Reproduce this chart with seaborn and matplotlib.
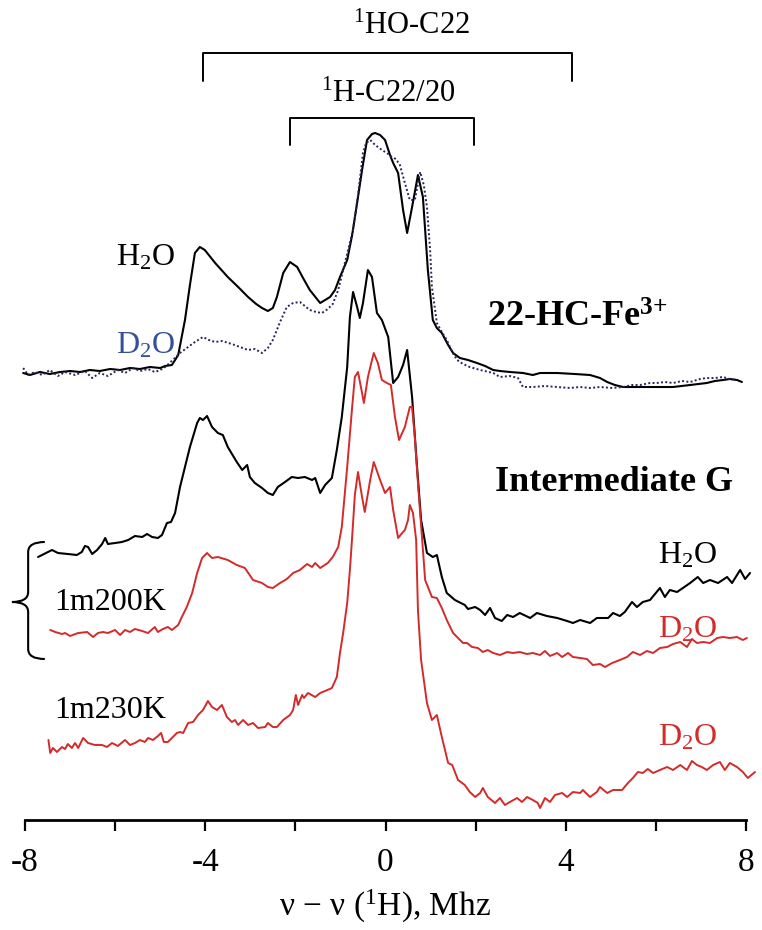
import numpy as np
import pandas as pd
import seaborn as sns
import matplotlib.pyplot as plt
from matplotlib.path import Path
from matplotlib.patches import PathPatch
from matplotlib.ticker import MultipleLocator

# ENDOR traces, (nu - nu(1H) in MHz, stacked intensity in arbitrary units)
hc_h2o = [(-8.04, 447), (-7.89, 445), (-7.67, 448), (-7.45, 446), (-7.22, 448), (-7.00, 449),
          (-6.78, 448), (-6.56, 450), (-6.34, 449), (-6.11, 451), (-5.89, 450), (-5.67, 452),
          (-5.45, 451), (-5.23, 453), (-5.00, 452), (-4.89, 454), (-4.74, 455), (-4.60, 465),
          (-4.45, 500), (-4.34, 535), (-4.23, 567), (-4.12, 573), (-4.01, 570), (-3.78, 557),
          (-3.50, 543), (-3.27, 533), (-3.05, 523), (-2.87, 516), (-2.74, 512), (-2.61, 509),
          (-2.50, 512), (-2.41, 523), (-2.27, 547), (-2.12, 558), (-1.96, 553), (-1.83, 542),
          (-1.68, 530), (-1.45, 517), (-1.34, 520), (-1.23, 523), (-1.12, 530), (-1.01, 543),
          (-0.85, 560), (-0.74, 585), (-0.63, 617), (-0.52, 650), (-0.41, 680), (-0.30, 686),
          (-0.23, 687), (-0.12, 685), (-0.01, 680), (0.10, 665), (0.17, 657), (0.28, 647),
          (0.39, 610), (0.48, 587), (0.59, 613), (0.72, 645), (0.83, 623), (0.94, 550),
          (1.05, 500), (1.14, 492), (1.25, 487), (1.39, 475), (1.50, 467), (1.65, 462),
          (1.83, 460), (2.03, 457), (2.21, 454), (2.39, 450), (2.54, 449), (2.76, 448),
          (3.05, 447), (3.27, 445), (3.43, 447), (3.81, 447), (4.20, 446), (4.54, 445),
          (4.76, 442), (4.92, 438), (5.09, 435), (5.27, 433), (5.65, 433), (6.02, 433),
          (6.38, 433), (6.76, 435), (7.13, 437), (7.31, 439), (7.49, 440), (7.64, 441),
          (7.80, 440), (7.91, 438)]

hc_d2o = [(-8.04, 452), (-7.93, 445), (-7.78, 448), (-7.62, 445), (-7.45, 450), (-7.27, 444),
          (-7.11, 448), (-6.89, 445), (-6.67, 449), (-6.51, 442), (-6.34, 447), (-6.16, 444),
          (-5.94, 450), (-5.78, 447), (-5.60, 452), (-5.45, 449), (-5.27, 451), (-5.12, 448),
          (-5.00, 450), (-4.89, 453), (-4.72, 460), (-4.56, 467), (-4.38, 473), (-4.23, 478),
          (-4.05, 483), (-3.92, 480), (-3.78, 478), (-3.63, 479), (-3.41, 476), (-3.23, 473),
          (-3.05, 470), (-2.90, 471), (-2.74, 467), (-2.61, 472), (-2.50, 480), (-2.34, 498),
          (-2.19, 513), (-2.05, 517), (-1.90, 518), (-1.79, 514), (-1.68, 510), (-1.54, 508),
          (-1.41, 507), (-1.28, 511), (-1.17, 516), (-1.05, 530), (-0.94, 550), (-0.83, 570),
          (-0.72, 590), (-0.61, 625), (-0.50, 667), (-0.43, 677), (-0.34, 680), (-0.23, 675),
          (-0.08, 670), (0.03, 667), (0.14, 663), (0.23, 661), (0.32, 655), (0.43, 637),
          (0.54, 620), (0.65, 620), (0.77, 648), (0.85, 635), (0.92, 613), (0.99, 570),
          (1.03, 533), (1.14, 497), (1.25, 488), (1.36, 480), (1.48, 468), (1.59, 460),
          (1.72, 456), (1.87, 453), (2.10, 450), (2.39, 447), (2.54, 443), (2.76, 444),
          (2.94, 442), (3.05, 433), (3.27, 433), (3.54, 434), (3.81, 433), (4.09, 432),
          (4.32, 433), (4.54, 432), (4.76, 433), (5.03, 432), (5.27, 433), (5.47, 435),
          (5.65, 435), (5.87, 437), (6.02, 437), (6.20, 438), (6.38, 437), (6.58, 439),
          (6.76, 438), (6.98, 441), (7.13, 442), (7.31, 442), (7.49, 443), (7.64, 441),
          (7.80, 440)]

g_h2o = [(-7.71, 263), (-7.49, 268), (-7.40, 270), (-7.27, 267), (-7.05, 266), (-6.85, 265),
         (-6.74, 268), (-6.67, 274), (-6.60, 273), (-6.51, 266), (-6.40, 270), (-6.29, 276),
         (-6.22, 282), (-6.16, 276), (-6.00, 277), (-5.85, 278), (-5.71, 280), (-5.56, 284),
         (-5.40, 283), (-5.29, 286), (-5.18, 283), (-5.05, 282), (-4.96, 285), (-4.85, 297),
         (-4.76, 298), (-4.67, 307), (-4.56, 333), (-4.45, 353), (-4.34, 373), (-4.18, 397),
         (-4.12, 402), (-4.05, 400), (-3.96, 404), (-3.85, 393), (-3.72, 387), (-3.61, 385),
         (-3.50, 373), (-3.30, 358), (-3.18, 350), (-3.07, 355), (-3.01, 343), (-2.90, 337),
         (-2.74, 332), (-2.61, 327), (-2.50, 325), (-2.39, 333), (-2.23, 338), (-2.08, 343),
         (-1.94, 342), (-1.79, 343), (-1.63, 340), (-1.56, 342), (-1.45, 327), (-1.34, 335),
         (-1.19, 342), (-1.08, 370), (-0.97, 403), (-0.85, 453), (-0.79, 503), (-0.72, 528),
         (-0.63, 513), (-0.57, 502), (-0.50, 517), (-0.39, 550), (-0.30, 543), (-0.19, 507),
         (-0.08, 500), (0.06, 483), (0.17, 437), (0.28, 443), (0.39, 455), (0.48, 470),
         (0.59, 423), (0.70, 353), (0.79, 300), (0.92, 267), (1.05, 263), (1.14, 265),
         (1.25, 243), (1.36, 227), (1.54, 220), (1.76, 215), (1.83, 211), (1.99, 213),
         (2.10, 210), (2.21, 205), (2.32, 212), (2.43, 202), (2.58, 199), (2.70, 205),
         (2.83, 203), (2.98, 207), (3.21, 202), (3.36, 207), (3.58, 204), (3.81, 202),
         (4.03, 199), (4.16, 197), (4.32, 200), (4.54, 197), (4.69, 202), (4.94, 202),
         (5.05, 207), (5.20, 204), (5.31, 208), (5.47, 218), (5.58, 213), (5.71, 218),
         (5.87, 220), (6.09, 232), (6.20, 223), (6.31, 230), (6.47, 228), (6.60, 232),
         (6.76, 237), (6.93, 243), (7.05, 237), (7.20, 240), (7.38, 237), (7.58, 243),
         (7.69, 237), (7.87, 250), (7.98, 241), (8.09, 247)]

g200_d2o = [(-7.44, 190), (-7.33, 188), (-7.18, 186), (-7.11, 187), (-7.00, 184), (-6.82, 187),
            (-6.62, 188), (-6.49, 183), (-6.38, 187), (-6.27, 188), (-6.16, 187), (-6.00, 190),
            (-5.89, 185), (-5.78, 190), (-5.67, 188), (-5.56, 191), (-5.40, 189), (-5.27, 187),
            (-5.12, 193), (-5.05, 188), (-4.94, 191), (-4.83, 193), (-4.74, 190), (-4.60, 195),
            (-4.52, 203), (-4.41, 213), (-4.29, 227), (-4.18, 247), (-4.07, 262), (-3.96, 267),
            (-3.85, 262), (-3.72, 263), (-3.50, 260), (-3.30, 255), (-3.12, 252), (-2.94, 240),
            (-2.74, 237), (-2.61, 233), (-2.50, 232), (-2.34, 237), (-2.19, 241), (-2.05, 247),
            (-1.90, 250), (-1.74, 256), (-1.63, 253), (-1.56, 257), (-1.45, 252), (-1.28, 257),
            (-1.17, 263), (-1.05, 273), (-0.97, 293), (-0.85, 353), (-0.74, 413), (-0.68, 443),
            (-0.61, 448), (-0.52, 427), (-0.48, 417), (-0.39, 443), (-0.30, 460), (-0.26, 467),
            (-0.17, 457), (-0.08, 440), (0.03, 437), (0.12, 435), (0.21, 403), (0.30, 380),
            (0.43, 393), (0.54, 413), (0.59, 413), (0.65, 383), (0.72, 337), (0.88, 240),
            (1.03, 223), (1.14, 222), (1.25, 212), (1.36, 200), (1.50, 187), (1.61, 182),
            (1.72, 177), (1.81, 177), (1.92, 173), (2.05, 172), (2.16, 168), (2.27, 170),
            (2.39, 167), (2.54, 165), (2.70, 168), (2.83, 167), (2.98, 168), (3.14, 166),
            (3.27, 167), (3.43, 165), (3.54, 169), (3.65, 164), (3.81, 167), (3.92, 163),
            (4.05, 167), (4.16, 163), (4.32, 162), (4.47, 161), (4.60, 155), (4.76, 156),
            (4.87, 153), (5.03, 157), (5.20, 160), (5.36, 163), (5.49, 168), (5.65, 165),
            (5.80, 169), (5.94, 167), (6.09, 172), (6.25, 173), (6.38, 176), (6.54, 178),
            (6.69, 173), (6.80, 181), (6.91, 177), (7.05, 178), (7.20, 177), (7.36, 182),
            (7.49, 183), (7.64, 182), (7.80, 183), (7.93, 180), (8.02, 182)]

g230_d2o = [(-7.48, 80), (-7.44, 67), (-7.38, 72), (-7.29, 68), (-7.18, 73), (-7.11, 71),
            (-7.05, 76), (-6.96, 72), (-6.89, 77), (-6.82, 72), (-6.71, 82), (-6.60, 77),
            (-6.45, 75), (-6.29, 75), (-6.18, 73), (-6.07, 77), (-5.94, 74), (-5.78, 80),
            (-5.67, 75), (-5.56, 77), (-5.45, 80), (-5.34, 78), (-5.27, 82), (-5.16, 80),
            (-5.05, 84), (-4.98, 87), (-4.92, 78), (-4.83, 78), (-4.74, 82), (-4.63, 87),
            (-4.56, 88), (-4.49, 87), (-4.38, 97), (-4.27, 98), (-4.16, 105), (-4.05, 110),
            (-3.94, 119), (-3.85, 113), (-3.74, 110), (-3.63, 115), (-3.52, 103), (-3.41, 98),
            (-3.34, 100), (-3.27, 95), (-3.16, 100), (-3.05, 95), (-2.94, 97), (-2.83, 92),
            (-2.67, 93), (-2.61, 97), (-2.50, 93), (-2.41, 93), (-2.27, 100), (-2.12, 105),
            (-2.05, 110), (-1.99, 125), (-1.94, 115), (-1.85, 125), (-1.81, 122), (-1.72, 127),
            (-1.56, 123), (-1.45, 127), (-1.34, 129), (-1.19, 132), (-1.08, 143), (-1.01, 167),
            (-0.94, 187), (-0.85, 217), (-0.79, 250), (-0.74, 283), (-0.68, 325), (-0.61, 348),
            (-0.52, 323), (-0.46, 308), (-0.34, 340), (-0.26, 358), (-0.12, 340), (-0.01, 327),
            (0.10, 333), (0.17, 310), (0.28, 282), (0.37, 287), (0.43, 290), (0.50, 300),
            (0.54, 315), (0.61, 307), (0.68, 280), (0.72, 210), (0.79, 160), (0.92, 117),
            (1.03, 100), (1.14, 105), (1.25, 83), (1.39, 57), (1.48, 55), (1.61, 40),
            (1.76, 35), (1.87, 28), (1.99, 23), (2.10, 27), (2.16, 32), (2.27, 23),
            (2.43, 17), (2.54, 22), (2.65, 15), (2.76, 18), (2.92, 22), (3.03, 18),
            (3.14, 23), (3.27, 20), (3.38, 17), (3.43, 12), (3.54, 22), (3.65, 18),
            (3.76, 25), (3.92, 27), (4.03, 23), (4.16, 28), (4.32, 27), (4.38, 30),
            (4.54, 23), (4.69, 28), (4.76, 33), (4.92, 27), (5.05, 30), (5.25, 30),
            (5.38, 37), (5.49, 42), (5.60, 48), (5.71, 47), (5.82, 51), (5.94, 47),
            (6.09, 50), (6.25, 53), (6.38, 50), (6.54, 55), (6.69, 50), (6.80, 59),
            (6.91, 55), (7.02, 53), (7.13, 50), (7.27, 55), (7.42, 58), (7.53, 50),
            (7.64, 57), (7.80, 53), (7.93, 48), (8.04, 42), (8.20, 48)]

# assignment brackets: (left MHz, right MHz, bar level, leg level)
outer_bracket = (-4.05, 4.14, 767, 739)
inner_bracket = (-2.11, 1.97, 702, 675)

RED = "#d42a2a"
NAVY = "#25255f"

sns.set_theme(style="white")
plt.rcParams['font.family'] = ['Liberation Serif', 'DejaVu Serif']
plt.rcParams['mathtext.fontset'] = 'custom'
plt.rcParams['mathtext.rm'] = 'Liberation Serif'
plt.rcParams['mathtext.bf'] = 'Liberation Serif:bold'
plt.rcParams['mathtext.default'] = 'regular'
plt.rcParams['axes.unicode_minus'] = False
plt.rcParams['text.color'] = 'black'
plt.rcParams['axes.labelcolor'] = 'black'
plt.rcParams['xtick.color'] = 'black'

fig = plt.figure(figsize=(7.62, 9.3), dpi=100)
ax = fig.add_axes([25 / 762, 110 / 930, 721 / 762, 820 / 930])

traces = [
    (hc_h2o, "black", "-", 1.5),
    (hc_d2o, NAVY, (0, (1, 1.2)), 1.4),
    (g_h2o, "black", "-", 1.5),
    (g200_d2o, RED, "-", 1.4),
    (g230_d2o, RED, "-", 1.4),
]
for pairs, color, ls, lw in traces:
    df = pd.DataFrame(pairs, columns=["mhz", "signal"])
    sns.lineplot(data=df, x="mhz", y="signal", ax=ax, color=color, linestyle=ls,
                 linewidth=lw, estimator=None, clip_on=False)

# brackets over the spectrum
for left, right, top, leg in (outer_bracket, inner_bracket):
    ax.plot([left, left, right, right], [leg, top, top, leg], color="black",
            lw=1.4, clip_on=False)

# curly brace grouping the two 200 K spectra
verts = [(-7.56, 278), (-7.93, 278), (-7.93, 268), (-7.93, 228), (-7.93, 218), (-8.29, 218),
         (-7.93, 218), (-7.93, 208), (-7.93, 171), (-7.93, 161), (-7.56, 161)]
codes = [Path.MOVETO, Path.CURVE3, Path.CURVE3, Path.LINETO, Path.CURVE3, Path.CURVE3,
         Path.CURVE3, Path.CURVE3, Path.LINETO, Path.CURVE3, Path.CURVE3]
ax.add_patch(PathPatch(Path(verts, codes), fill=False, lw=1.5, color="black", clip_on=False))

fs = 23
ax.text(0.57, 786, "$^1$HO-C22", ha="center", va="baseline", fontsize=22)
ax.text(0.06, 718, "$^1$H-C22/20", ha="center", va="baseline", fontsize=22)
ax.text(-5.33, 555, "H$_2$O", ha="center", va="baseline", fontsize=fs)
ax.text(-5.33, 467, "D$_2$O", ha="center", va="baseline", fontsize=fs, color="#34509c")
ax.text(2.25, 493, "22-HC-Fe$^{3{+}}$", ha="left", va="baseline", fontsize=26, fontweight="bold")
ax.text(5.07, 329, "Intermediate G", ha="center", va="baseline", fontsize=26, fontweight="bold")
ax.text(6.71, 257, "H$_2$O", ha="center", va="baseline", fontsize=fs)
ax.text(6.71, 183, "D$_2$O", ha="center", va="baseline", fontsize=fs, color=RED)
ax.text(6.71, 75, "D$_2$O", ha="center", va="baseline", fontsize=fs, color=RED)
ax.text(-6.12, 210, "1m200K", ha="center", va="baseline", fontsize=fs)
ax.text(-6.12, 102, "1m230K", ha="center", va="baseline", fontsize=fs)

ax.set_xlim(-8, 8)
ax.set_ylim(0, 820)
ax.xaxis.set_major_locator(MultipleLocator(4))
ax.xaxis.set_minor_locator(MultipleLocator(2))
ax.tick_params(axis="x", which="both", bottom=True, direction="out", length=8, width=1.6,
               color="black")
ax.tick_params(axis="x", which="major", labelsize=24, pad=12)
ax.set_yticks([])
ax.set_ylabel("")
ax.set_xlabel("ν − ν ($^1$H), Mhz", fontsize=24, labelpad=7)
for side in ("left", "right", "top"):
    ax.spines[side].set_visible(False)
ax.spines["bottom"].set_linewidth(2)
ax.spines["bottom"].set_color("black")

fig.savefig("out.png", dpi=100)
